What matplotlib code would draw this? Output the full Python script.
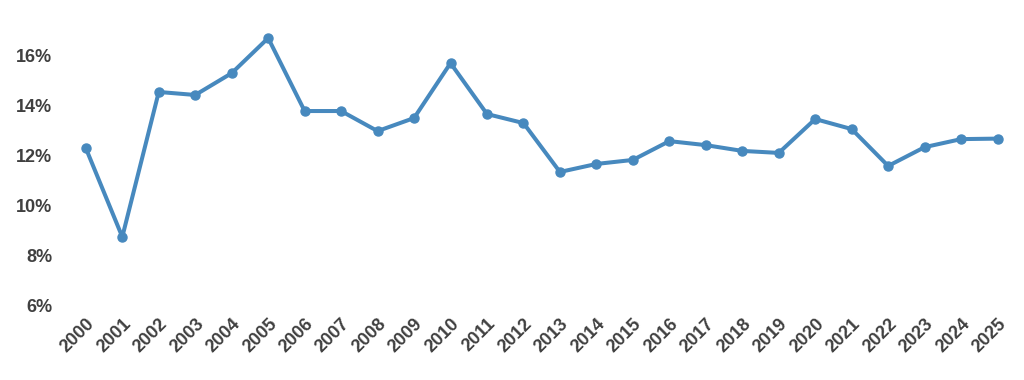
import numpy as np
import matplotlib.pyplot as plt
from matplotlib.ticker import FuncFormatter

years = [str(y) for y in range(2000, 2026)]
rates = [12.29, 8.75, 14.53, 14.41, 15.28, 16.68, 13.77, 13.77, 12.97, 13.49,
         15.68, 13.65, 13.29, 11.34, 11.66, 11.82, 12.57, 12.41, 12.18, 12.10,
         13.45, 13.05, 11.58, 12.33, 12.65, 12.67]
yticks = [6, 8, 10, 12, 14, 16]

plt.rcParams['font.family'] = ['Liberation Sans', 'DejaVu Sans']

fig = plt.figure(figsize=(10.24, 3.8), dpi=100)
ax = fig.add_axes([0.066, 0.195, 0.926, 0.726])
x = np.arange(len(years))
ax.plot(x, rates, color='#4789be', linewidth=2.9, marker='o', markersize=6.5)

ax.set_xlim(-0.5, len(years) - 0.5)
ax.set_ylim(6, 17)
ax.set_yticks(yticks)
ax.yaxis.set_major_formatter(FuncFormatter(lambda v, p: '{:.0f}%'.format(v)))
ax.set_xticks(x)
ax.set_xticklabels(years)
plt.setp(ax.get_xticklabels(), rotation=45, ha='right', rotation_mode='anchor')
ax.tick_params(axis='both', length=0, labelsize=13, labelcolor='#404040')
ax.tick_params(axis='y', pad=11)
ax.tick_params(axis='x', pad=7)
for lab in ax.get_xticklabels() + ax.get_yticklabels():
    lab.set_fontweight('bold')
for s in ax.spines.values():
    s.set_visible(False)

fig.savefig('out.png', dpi=100)
